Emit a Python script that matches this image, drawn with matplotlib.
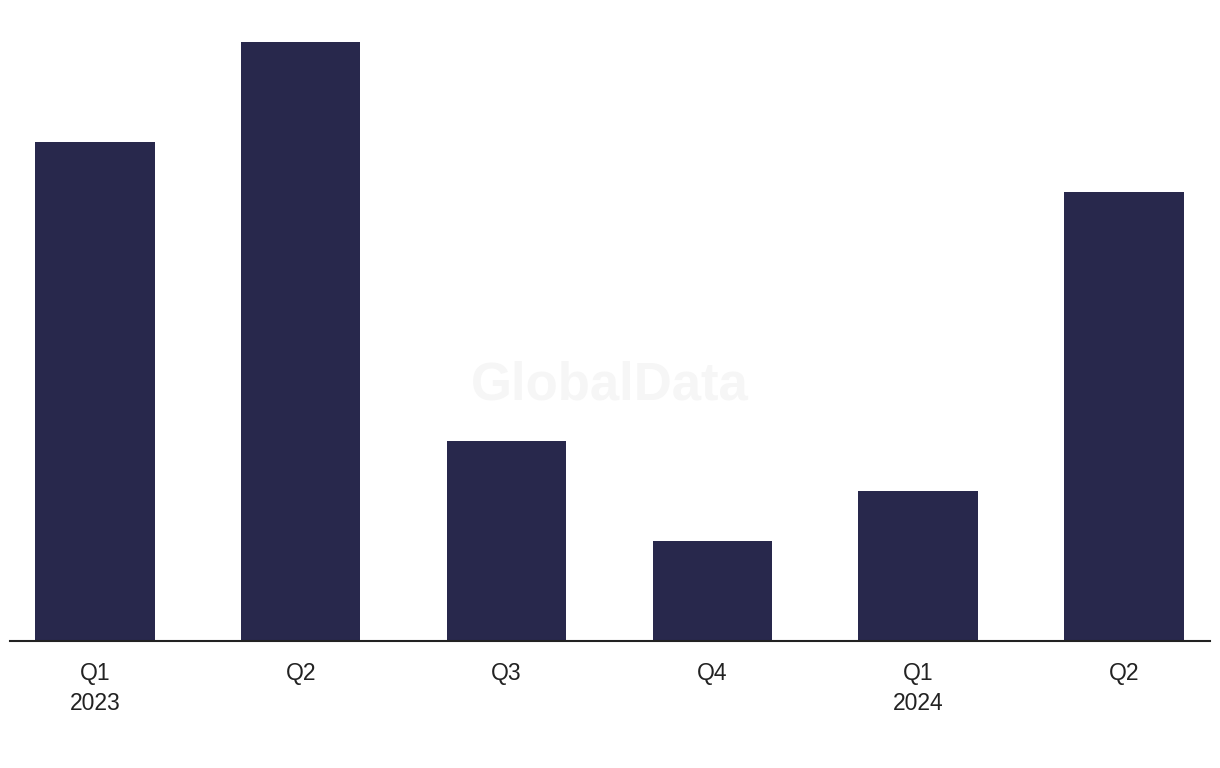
import matplotlib
matplotlib.use("Agg")
import matplotlib.pyplot as plt

quarters = ["Q1\n2023", "Q2", "Q3", "Q4", "Q1\n2024", "Q2"]
values = [10, 12, 4, 2, 3, 9]

bar_color = "#28284c"

plt.rcParams['font.family'] = ['Liberation Sans', 'DejaVu Sans']

fig = plt.figure(figsize=(12.2, 7.68), dpi=100)
ax = fig.add_axes([10 / 1220, 127 / 768, 1200 / 1220, 641 / 768])

x = list(range(len(values)))
ax.bar(x, values, width=0.58, color=bar_color, zorder=2)

ax.set_xlim(-0.413, 5.418)
ax.set_ylim(0, 12.84)

ax.set_xticks(x)
ax.set_xticklabels(quarters, fontsize=16.5, color="#222222", linespacing=1.42)
ax.tick_params(axis="x", length=0, pad=15)
ax.set_yticks([])

for s in ["top", "right", "left"]:
    ax.spines[s].set_visible(False)
ax.spines["bottom"].set_color("#222222")
ax.spines["bottom"].set_linewidth(1.5)

# faint watermark
fig.text(0.5, 1 - 386 / 768, "GlobalData", ha="center", va="center",
         fontsize=38, fontweight="bold", color="#f6f6f6", zorder=0)

fig.savefig("out.png", dpi=100)
